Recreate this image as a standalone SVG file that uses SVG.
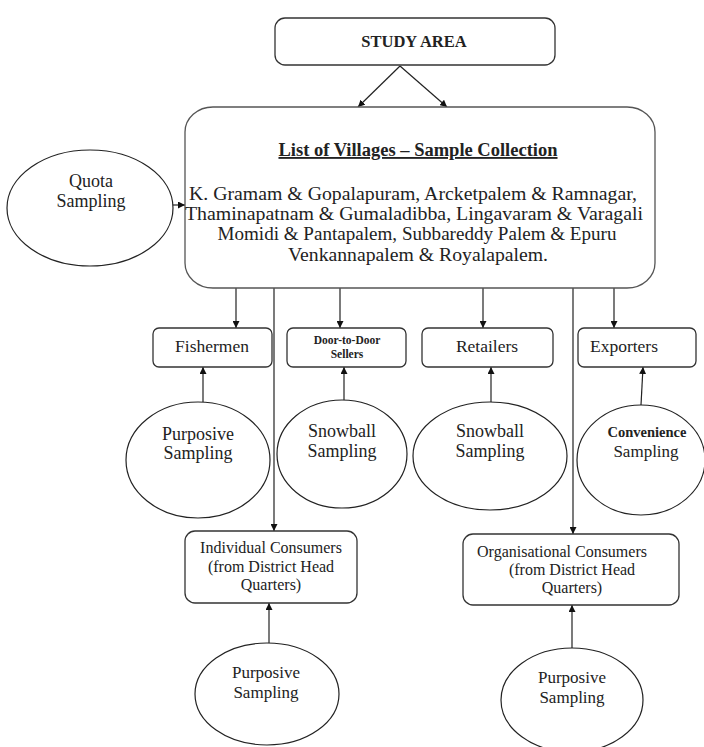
<svg xmlns="http://www.w3.org/2000/svg" width="704" height="747" viewBox="0 0 704 747">
<defs>
<marker id="ah" viewBox="0 0 10 10" refX="10" refY="5" markerWidth="7" markerHeight="7" markerUnits="userSpaceOnUse" orient="auto">
<path d="M0,0 L10,5 L0,10 z" fill="#111"/>
</marker>
<style>
.box{fill:#fff;stroke:#333;stroke-width:1.3}
.ell{fill:#fff;stroke:#222;stroke-width:1.2}
.ln{stroke:#222;stroke-width:1.2;fill:none}
.arr{stroke:#222;stroke-width:1.2;fill:none;marker-end:url(#ah)}
.t{font-family:"Liberation Serif","Times New Roman",serif;fill:#222;text-anchor:middle}
.b{font-weight:bold}
</style>
</defs>
<rect width="704" height="747" fill="#fff"/>

<g id="connectors">
<line class="arr" x1="400" y1="66" x2="358" y2="107"/>
<line class="arr" x1="400" y1="66" x2="447" y2="107"/>
<line class="arr" x1="173" y1="205" x2="185" y2="205"/>
<line class="arr" x1="236" y1="288" x2="236" y2="328"/>
<line class="arr" x1="340" y1="288" x2="340" y2="328"/>
<line class="arr" x1="483" y1="288" x2="483" y2="328"/>
<line class="arr" x1="614" y1="288" x2="614" y2="328"/>
<line class="arr" x1="274" y1="288" x2="274" y2="531"/>
<line class="arr" x1="573" y1="288" x2="573" y2="534"/>
<line class="arr" x1="203" y1="402" x2="203" y2="367"/>
<line class="arr" x1="344" y1="400" x2="344" y2="367"/>
<line class="arr" x1="491" y1="402" x2="491" y2="367"/>
<line class="arr" x1="641" y1="405" x2="643" y2="367"/>
<line class="arr" x1="269" y1="643" x2="269" y2="603"/>
<line class="arr" x1="572" y1="648" x2="572" y2="605"/>
</g>

<g id="study-area">
<rect class="box" x="275" y="18" width="280" height="47" rx="10"/>
<text class="t b" x="414" y="47" font-size="16.5">STUDY AREA</text>
</g>

<g id="villages">
<rect class="box" x="185" y="107" width="470" height="181" rx="28" ry="25" style="stroke:#555"/>
<text class="t b" x="418" y="156" font-size="18.5" text-decoration="underline">List of Villages – Sample Collection</text>
<text class="t" x="413" y="200" font-size="18" textLength="448" lengthAdjust="spacingAndGlyphs">K. Gramam &amp; Gopalapuram, Arcketpalem &amp; Ramnagar,</text>
<text class="t" x="414" y="220" font-size="18" textLength="458" lengthAdjust="spacingAndGlyphs">Thaminapatnam &amp; Gumaladibba, Lingavaram &amp; Varagali</text>
<text class="t" x="417" y="240" font-size="18" textLength="399" lengthAdjust="spacingAndGlyphs">Momidi &amp; Pantapalem, Subbareddy Palem &amp; Epuru</text>
<text class="t" x="418" y="261" font-size="18" textLength="260" lengthAdjust="spacingAndGlyphs">Venkannapalem &amp; Royalapalem.</text>
</g>

<g id="quota">
<ellipse class="ell" cx="90" cy="208" rx="83" ry="58"/>
<text class="t" x="91" y="187" font-size="18">Quota</text>
<text class="t" x="91" y="207" font-size="18">Sampling</text>
</g>

<g id="fishermen">
<rect class="box" x="153" y="328" width="119" height="39" rx="6"/>
<text class="t" x="212" y="352" font-size="17.5">Fishermen</text>
</g>
<g id="door-to-door">
<rect class="box" x="287" y="328" width="119" height="39" rx="6"/>
<text class="t b" x="347" y="344" font-size="11.5">Door-to-Door</text>
<text class="t b" x="347" y="358" font-size="11.5">Sellers</text>
</g>
<g id="retailers">
<rect class="box" x="422" y="328" width="131" height="39" rx="6"/>
<text class="t" x="487" y="352" font-size="17.5">Retailers</text>
</g>
<g id="exporters">
<rect class="box" x="578" y="328" width="118" height="39" rx="6"/>
<text class="t" x="624" y="352" font-size="17.5">Exporters</text>
</g>

<g id="purposive-1">
<ellipse class="ell" cx="198" cy="460" rx="72" ry="58"/>
<text class="t" x="198" y="440" font-size="18">Purposive</text>
<text class="t" x="198" y="459" font-size="18">Sampling</text>
</g>
<g id="snowball-1">
<ellipse class="ell" cx="342" cy="454" rx="65" ry="54"/>
<text class="t" x="342" y="437" font-size="18">Snowball</text>
<text class="t" x="342" y="457" font-size="18">Sampling</text>
</g>
<g id="snowball-2">
<ellipse class="ell" cx="490" cy="456" rx="77" ry="54"/>
<text class="t" x="490" y="437" font-size="18">Snowball</text>
<text class="t" x="490" y="457" font-size="18">Sampling</text>
</g>
<g id="convenience">
<ellipse class="ell" cx="641" cy="460" rx="64" ry="55"/>
<text class="t b" x="647" y="437" font-size="14.5">Convenience</text>
<text class="t" x="646" y="457" font-size="17">Sampling</text>
</g>

<g id="individual">
<rect class="box" x="185" y="531" width="172" height="72" rx="10"/>
<text class="t" x="271" y="553" font-size="16">Individual Consumers</text>
<text class="t" x="271" y="572" font-size="16">(from District Head</text>
<text class="t" x="271" y="590" font-size="16">Quarters)</text>
</g>
<g id="organisational">
<rect class="box" x="463" y="534" width="216" height="71" rx="10"/>
<text class="t" x="562" y="557" font-size="16">Organisational Consumers</text>
<text class="t" x="572" y="575" font-size="16">(from District Head</text>
<text class="t" x="572" y="593" font-size="16">Quarters)</text>
</g>

<g id="purposive-2">
<ellipse class="ell" cx="267" cy="694" rx="72" ry="51"/>
<text class="t" x="266" y="678" font-size="17">Purposive</text>
<text class="t" x="266" y="698" font-size="17">Sampling</text>
</g>
<g id="purposive-3">
<ellipse class="ell" cx="572" cy="700" rx="71" ry="52"/>
<text class="t" x="572" y="683" font-size="17">Purposive</text>
<text class="t" x="572" y="703" font-size="17">Sampling</text>
</g>
</svg>
